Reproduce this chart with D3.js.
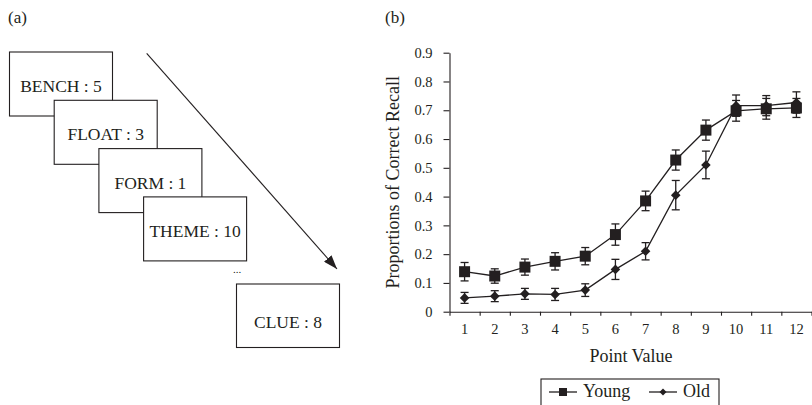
<!DOCTYPE html>
<html>
<head>
<meta charset="utf-8">
<script src="https://cdn.jsdelivr.net/npm/d3@7"></script>
<style>
    body { margin: 0; background: #fff; }
    svg { display: block; font-family: "Liberation Serif", "DejaVu Serif", serif; }
</style>
</head>
<body>
<svg id="chart" width="812" height="405"></svg>
<script>
// data
const cards = ['BENCH : 5', 'FLOAT : 3', 'FORM : 1', 'THEME : 10'];
const lastCard = 'CLUE : 8';
const pointValues = [1, 2, 3, 4, 5, 6, 7, 8, 9, 10, 11, 12];
const young = [0.139, 0.124, 0.155, 0.175, 0.193, 0.268, 0.385, 0.527, 0.631, 0.698, 0.705, 0.708];
const youngErr = [0.032, 0.025, 0.028, 0.030, 0.030, 0.037, 0.034, 0.035, 0.035, 0.036, 0.036, 0.033];
const old = [0.048, 0.054, 0.062, 0.060, 0.075, 0.147, 0.210, 0.405, 0.510, 0.716, 0.716, 0.727];
const oldErr = [0.019, 0.019, 0.019, 0.021, 0.022, 0.035, 0.030, 0.051, 0.048, 0.037, 0.035, 0.037];
const yTicks = [0, 0.1, 0.2, 0.3, 0.4, 0.5, 0.6, 0.7, 0.8, 0.9];
const seriesNames = ['Young', 'Old'];

const ink = '#231f20';
const svg = d3.select('#chart');

// ---------- panel (a) ----------
svg.append('text').attr('x', 8).attr('y', 23).attr('font-size', 17).attr('fill', ink).text('(a)');

const boxW = 103, boxH = 64;
const pa = svg.append('g');

cards.forEach((c, i) => {
    const bx = 9.5 + i * 44.7, by = 52 + i * 48.3;
    pa.append('rect')
        .attr('x', bx).attr('y', by).attr('width', boxW).attr('height', boxH)
        .attr('fill', '#fff').attr('stroke', ink).attr('stroke-width', 1.1);
    pa.append('text')
        .attr('x', bx + boxW / 2).attr('y', by + 40)
        .attr('text-anchor', 'middle').attr('font-size', 17.5).attr('fill', ink)
        .text(c);
});

pa.append('text').attr('x', 237).attr('y', 273).attr('text-anchor', 'middle')
    .attr('font-size', 11).attr('fill', ink).text('...');

pa.append('rect')
    .attr('x', 236.5).attr('y', 284).attr('width', boxW).attr('height', boxH - 0.5)
    .attr('fill', '#fff').attr('stroke', ink).attr('stroke-width', 1.1);
pa.append('text')
    .attr('x', 236.5 + boxW / 2).attr('y', 328)
    .attr('text-anchor', 'middle').attr('font-size', 17.5).attr('fill', ink)
    .text(lastCard);

// arrow
svg.append('defs').append('marker')
    .attr('id', 'arrow')
    .attr('viewBox', '0 0 14 10')
    .attr('refX', 14).attr('refY', 5)
    .attr('markerWidth', 14).attr('markerHeight', 10)
    .attr('markerUnits', 'userSpaceOnUse')
    .attr('orient', 'auto')
    .append('path').attr('d', 'M0,0 L14,5 L0,10 Z').attr('fill', ink);

pa.append('line')
    .attr('x1', 146.7).attr('y1', 53.3).attr('x2', 337).attr('y2', 269)
    .attr('stroke', ink).attr('stroke-width', 1.1)
    .attr('marker-end', 'url(#arrow)');

// ---------- panel (b) ----------
svg.append('text').attr('x', 385).attr('y', 23).attr('font-size', 17).attr('fill', ink).text('(b)');

const plotLeft = 449.5, plotRight = 811.5, plotTop = 52.7, plotBottom = 311.7;

const x = d3.scaleBand().domain(pointValues).range([plotLeft, plotRight]).padding(0);
const xEdge = d3.scaleLinear().domain([0.5, 12.5]).range([plotLeft, plotRight]);
const y = d3.scaleLinear().domain([0, 0.9]).range([plotBottom, plotTop]);
const cx = d => x(d) + x.bandwidth() / 2;

// y axis
const yAxis = svg.append('g')
    .attr('transform', `translate(${plotLeft},0)`)
    .call(d3.axisLeft(y).tickValues(yTicks).tickSize(6).tickSizeOuter(0).tickPadding(11)
        .tickFormat(d => d === 0 ? '0' : d3.format('.1f')(d)));
yAxis.selectAll('text').attr('font-size', 14.5).attr('font-family', 'Liberation Serif').attr('fill', ink);
yAxis.selectAll('line, path').attr('stroke', ink).attr('stroke-width', 1.1);

// x axis: boundary ticks
const xTickAxis = svg.append('g')
    .attr('transform', `translate(0,${plotBottom})`)
    .call(d3.axisBottom(xEdge).tickValues(d3.range(0.5, 12.6, 1)).tickSize(4).tickSizeOuter(0).tickFormat(''));
xTickAxis.selectAll('line, path').attr('stroke', ink).attr('stroke-width', 1.1);

// x axis: labels at band centres
const xLabelAxis = svg.append('g')
    .attr('transform', `translate(0,${plotBottom})`)
    .call(d3.axisBottom(x).tickSize(0).tickPadding(12));
xLabelAxis.select('.domain').remove();
xLabelAxis.selectAll('text').attr('font-size', 14.5).attr('font-family', 'Liberation Serif').attr('fill', ink);

// axis titles
svg.append('text')
    .attr('x', 631).attr('y', 362)
    .attr('text-anchor', 'middle').attr('font-size', 18).attr('fill', ink)
    .text('Point Value');
svg.append('text')
    .attr('transform', `translate(399,${(plotTop + plotBottom) / 2}) rotate(-90)`)
    .attr('text-anchor', 'middle').attr('font-size', 18).attr('fill', ink)
    .text('Proportions of Correct Recall');

// series
const series = [
    { name: seriesNames[0], values: young, err: youngErr, shape: 'square' },
    { name: seriesNames[1], values: old, err: oldErr, shape: 'diamond' }
];

const line = d3.line().x((d, i) => cx(pointValues[i])).y(d => y(d));
const plot = svg.append('g');

series.forEach(s => {
    plot.append('path')
        .attr('d', line(s.values))
        .attr('fill', 'none').attr('stroke', ink).attr('stroke-width', 1.3);
});

series.forEach(s => {
    const eb = plot.append('g').attr('stroke', ink).attr('stroke-width', 1.3);
    s.values.forEach((v, i) => {
        const px = cx(pointValues[i]);
        eb.append('line').attr('x1', px).attr('x2', px).attr('y1', y(v - s.err[i])).attr('y2', y(v + s.err[i]));
        eb.append('line').attr('x1', px - 4).attr('x2', px + 4).attr('y1', y(v - s.err[i])).attr('y2', y(v - s.err[i]));
        eb.append('line').attr('x1', px - 4).attr('x2', px + 4).attr('y1', y(v + s.err[i])).attr('y2', y(v + s.err[i]));
    });
});

const squareSym = d3.symbol().type(d3.symbolSquare).size(121);
const diamondPath = r => `M0,${-r}L${r},0L0,${r}L${-r},0Z`;

series.forEach(s => {
    plot.selectAll(null)
        .data(s.values)
        .enter()
        .append('path')
        .attr('transform', (d, i) => `translate(${cx(pointValues[i])},${y(d)})`)
        .attr('d', s.shape === 'square' ? squareSym() : diamondPath(4.8))
        .attr('fill', ink);
});

// legend
const lg = svg.append('g');
lg.append('rect').attr('x', 541).attr('y', 379).attr('width', 178).attr('height', 40)
    .attr('fill', '#fff').attr('stroke', ink).attr('stroke-width', 1.1);

const legendItems = [
    { name: seriesNames[0], x0: 549, shape: 'square' },
    { name: seriesNames[1], x0: 649, shape: 'diamond' }
];
legendItems.forEach(it => {
    lg.append('line').attr('x1', it.x0).attr('x2', it.x0 + 28).attr('y1', 392).attr('y2', 392)
        .attr('stroke', ink).attr('stroke-width', 1.3);
    lg.append('path')
        .attr('transform', `translate(${it.x0 + 14},392)`)
        .attr('d', it.shape === 'square' ? d3.symbol().type(d3.symbolSquare).size(64)() : diamondPath(3.5))
        .attr('fill', ink);
    lg.append('text').attr('x', it.x0 + 34).attr('y', 397)
        .attr('font-size', 18).attr('fill', ink).text(it.name);
});
</script>
</body>
</html>
